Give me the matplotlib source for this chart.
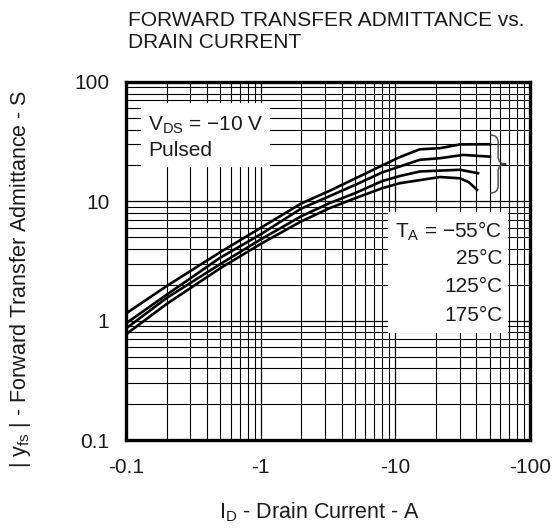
import numpy as np
import matplotlib
matplotlib.use("Agg")
import matplotlib.pyplot as plt
from matplotlib.patches import Rectangle, PathPatch
from matplotlib.path import Path

plt.rcParams['font.family'] = ['Liberation Sans', 'DejaVu Sans']
plt.rcParams['mathtext.default'] = 'regular'

# Drain current magnitude (A) and |yfs| (S)
temps = ['-55', '25', '125', '175']
id_top = [0.1, 0.2, 0.5, 1, 2, 3.27, 5, 8, 10.8, 15.2, 21.5, 30.2, 50.4]
yfs_top = [1.15, 1.95, 3.75, 6.0, 9.6, 12.3, 15.5, 20.0, 23.5, 27.3, 27.9, 30.0, 30.1]
id_2 = [0.1, 0.2, 0.5, 1, 2, 3.27, 5, 8, 15.2, 21.5, 31.8, 50.4]
yfs_2 = [0.95, 1.65, 3.37, 5.3, 8.7, 11.1, 13.7, 17.5, 22.3, 23.0, 24.5, 23.7]
id_3 = [0.1, 0.2, 0.5, 1, 2, 3.27, 5, 8, 10.8, 15.2, 30.2, 41.1]
yfs_3 = [0.86, 1.55, 2.98, 4.8, 7.5, 9.7, 11.7, 14.8, 16.3, 17.8, 18.4, 17.2]
id_4 = [0.1, 0.2, 0.5, 1, 2, 3.27, 5, 8, 10.8, 21.5, 30.2, 35.0, 40.4]
yfs_4 = [0.77, 1.38, 2.75, 4.4, 6.8, 8.8, 10.6, 12.9, 14.2, 16.0, 15.6, 14.5, 12.5]

x_ticks = [0.1, 1, 10, 100]
x_ticklabels = ['-0.1', '-1', '-10', '-100']
y_ticks = [0.1, 1, 10, 100]
y_ticklabels = ['0.1', '1', '10', '100']

TXT = '#1a1a1a'
FS = 15


def draw_brace(ax):
    # curly bracket grouping the curve ends (axes fraction coords)
    xl, xm, xt = 0.901, 0.921, 0.941
    yt, ym, yb = 0.852, 0.771, 0.690
    verts = [(xl, yt), (xm, yt), (xm, yt - 0.02),
             (xm, ym + 0.02),
             (xm, ym), (xt, ym),
             (xm, ym), (xm, ym - 0.02),
             (xm, yb + 0.02),
             (xm, yb), (xl, yb)]
    codes = [Path.MOVETO, Path.CURVE3, Path.CURVE3,
             Path.LINETO,
             Path.CURVE3, Path.CURVE3,
             Path.CURVE3, Path.CURVE3,
             Path.LINETO,
             Path.CURVE3, Path.CURVE3]
    patch = PathPatch(Path(verts, codes), transform=ax.transAxes,
                      facecolor='none', edgecolor='#444444', lw=1.0,
                      clip_on=False, zorder=3)
    ax.add_patch(patch)


def plot_chart():
    fig = plt.figure(figsize=(5.59, 5.29), dpi=100)
    ax = fig.add_axes([0.2254, 0.168, 0.7228, 0.677])

    for xs, ys in [(id_top, yfs_top), (id_2, yfs_2), (id_3, yfs_3), (id_4, yfs_4)]:
        ax.plot(xs, ys, color='black', lw=1.9, solid_joinstyle='round', zorder=2)

    ax.set_xscale('log')
    ax.set_yscale('log')
    ax.set_xlim(0.1, 100)
    ax.set_ylim(0.1, 100)
    ax.set_xticks(x_ticks)
    ax.set_xticklabels(x_ticklabels)
    ax.set_yticks(y_ticks)
    ax.set_yticklabels(y_ticklabels)
    ax.tick_params(which='both', length=0, labelsize=FS, labelcolor=TXT)
    ax.tick_params(axis='x', pad=13)
    ax.tick_params(axis='y', pad=12)

    ax.set_axisbelow(True)
    ax.grid(which='major', color='black', lw=0.9)
    ax.grid(which='minor', color='black', lw=0.8)
    for s in ax.spines.values():
        s.set_linewidth(2.4)
        s.set_zorder(4)

    # white label boxes over the grid
    ax.add_patch(Rectangle((0.037, 0.763), 0.319, 0.178, transform=ax.transAxes,
                           facecolor='white', edgecolor='none', zorder=1.5))
    ax.add_patch(Rectangle((0.649, 0.299), 0.297, 0.338, transform=ax.transAxes,
                           facecolor='white', edgecolor='none', zorder=1.5))

    ax.text(0.054, 0.880, '$V_{DS}$ = \u221210 V', transform=ax.transAxes,
            fontsize=FS, color=TXT, va='center', zorder=3)
    ax.text(0.054, 0.808, 'Pulsed', transform=ax.transAxes, fontsize=FS,
            color=TXT, va='center', zorder=3)

    t_labels = ['$T_A$ = \u2212' + temps[0] .lstrip('-') + '\u00b0C'] + \
               [t + '\u00b0C' for t in temps[1:]]
    for lab, yy in zip(t_labels, [0.584, 0.508, 0.430, 0.349]):
        ax.text(0.931, yy, lab, transform=ax.transAxes, fontsize=FS, color=TXT,
                ha='right', va='center', zorder=3)

    draw_brace(ax)

    fig.text(0.229, 0.962, 'FORWARD TRANSFER ADMITTANCE vs.', fontsize=FS,
             color=TXT, va='center')
    fig.text(0.229, 0.920, 'DRAIN CURRENT', fontsize=FS, color=TXT, va='center')
    fig.text(0.572, 0.032, '$I_D$ - Drain Current - A', fontsize=FS + 0.5,
             color=TXT, ha='center', va='center')
    fig.text(0.036, 0.473, '| $y_{fs}$ | - Forward Transfer Admittance - S',
             fontsize=FS + 0.5, color=TXT, rotation=90, ha='center', va='center')

    fig.savefig('out.png', dpi=100)


if __name__ == "__main__":
    plot_chart()
